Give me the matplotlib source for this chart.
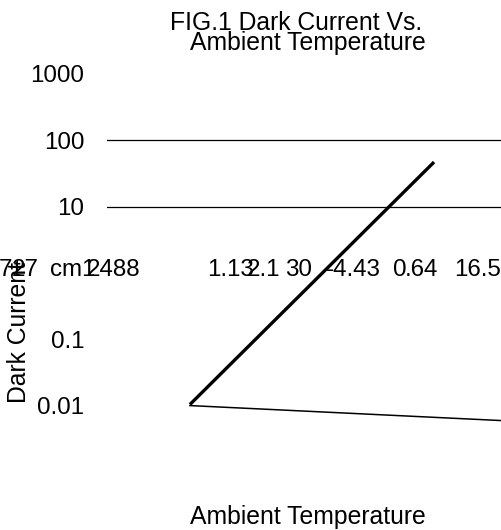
import matplotlib
matplotlib.use("Agg")
import matplotlib.pyplot as plt
import numpy as np

plt.rcParams['font.family'] = ['Liberation Sans', 'DejaVu Sans']

# ---- data ----
title_line1 = "FIG.1 Dark Current Vs."
title_line2 = "Ambient Temperature"
x_label = "Ambient Temperature"
y_label = "Dark Current"

y_ticks = [0.01, 0.1, 10, 100, 1000]
y_tick_labels = ["0.01", "0.1", "10", "100", "1000"]
grid_values = [10, 100]

thick_x = [2.1, 8.28]
thick_y = [0.0105, 47]
thin_x = [2.1, 10.0]
thin_y = [0.0101, 0.0060]

# garbled labels printed on the "1" row: (text, x pixel)
row_labels = ["7", "t", "27", "cm", "1", "2488",
              "1.13", "2.1", "30", "-4.43", "0", ".64", "16.5"]
row_label_px = [-1, 13.5, 12, 50.5, 81.5, 87,
                207.5, 246.5, 285.5, 326, 393, 405, 454]

W, H = 502, 530
FS = 17.8
FS_T = 17.4

fig = plt.figure(figsize=(W / 100, H / 100), dpi=100)
ax_left, ax_right = 107, 502
ax_top, ax_bottom = 60, 440
ax = fig.add_axes([ax_left / W, (H - ax_bottom) / H,
                   (ax_right - ax_left) / W, (ax_bottom - ax_top) / H])
ax.set_yscale('log')
ax.set_ylim(10 ** -2.514, 10 ** 3.209)
ax.set_xlim(0, 10)

for g in grid_values:
    ax.axhline(g, color='black', lw=0.9, zorder=1)

ax.plot(thin_x, thin_y, color='black', lw=1.1, zorder=2)
ax.plot(thick_x, thick_y, color='black', lw=2.4, solid_capstyle='butt', zorder=3)

ax.set_yticks(y_ticks)
ax.set_yticklabels(y_tick_labels)
ax.yaxis.set_minor_locator(matplotlib.ticker.NullLocator())
ax.tick_params(axis='y', length=0, pad=16.5, labelsize=FS_T)
ax.set_xticks([])
for s in ax.spines.values():
    s.set_visible(False)
ax.patch.set_alpha(0)

def px(x, y):
    return x / W, 1 - y / H

# title
fig.text(*px(296.5, 30), title_line1, ha='center', va='baseline', fontsize=FS)
fig.text(*px(307.5, 50), title_line2, ha='center', va='baseline', fontsize=FS)

# x label
fig.text(*px(307.5, 524), x_label, ha='center', va='baseline', fontsize=FS)

# y label
fig.text(*px(26.5, 332.5), y_label, ha='center', va='baseline', rotation=90,
         rotation_mode='anchor', fontsize=FS)

# garbled row
for t, xp in zip(row_labels, row_label_px):
    fig.text(*px(xp, 276), t, ha='left', va='baseline', fontsize=FS_T)

fig.savefig("out.png", dpi=100)
